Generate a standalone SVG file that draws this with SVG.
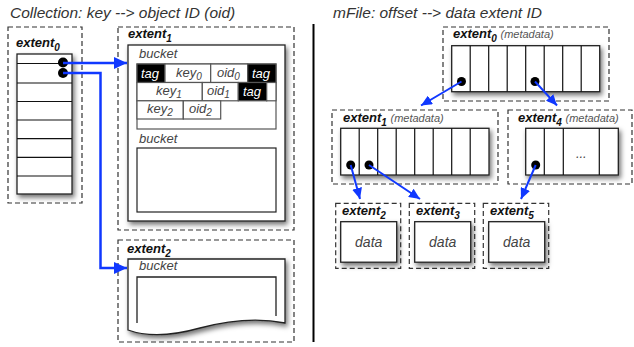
<svg xmlns="http://www.w3.org/2000/svg" width="634" height="347" viewBox="0 0 634 347">
<defs>
<filter id="sh" x="-20%" y="-20%" width="150%" height="150%">
<feDropShadow dx="2" dy="3" stdDeviation="2.5" flood-color="#000" flood-opacity="0.55"/>
</filter>
<marker id="ah" markerUnits="userSpaceOnUse" markerWidth="14" markerHeight="12" refX="13" refY="6" orient="auto">
<path d="M0,0 L13,6 L0,12 Z" fill="#1038ff"/>
</marker>
<marker id="as" markerUnits="userSpaceOnUse" markerWidth="12" markerHeight="10" refX="11" refY="5" orient="auto">
<path d="M0,0 L11,5 L0,10 Z" fill="#1038ff"/>
</marker>
</defs>
<style>
.dash{fill:none;stroke:#333;stroke-width:1.2;stroke-dasharray:5 3}
.box{fill:#fff;stroke:#222;stroke-width:1.3}
.cell{fill:#fff;stroke:#555;stroke-width:1.2}
.blk{fill:#000;stroke:#555;stroke-width:1.2}
.ln{stroke:#111;stroke-width:1.2}
.t{font-family:"Liberation Sans",Arial,sans-serif;font-style:italic}
.title{font-size:15.5px;fill:#333}
.lbl{font-size:13px;font-weight:bold;fill:#111}
.sub{font-size:10px}
.meta{font-size:11px;fill:#555;font-weight:normal}
.g{font-size:13px;fill:#444}
.w{font-size:13px;fill:#fff}
.conn{fill:none;stroke:#1038ff}
.dot{fill:#000}
</style>

<text class="t title" x="10" y="18">Collection: key --&gt; object ID (oid)</text>
<text class="t title" x="333" y="18">mFile: offset --&gt; data extent ID</text>
<line x1="313.5" y1="24" x2="313.5" y2="342" stroke="#000" stroke-width="2"/>

<g id="L-extent0">
<rect class="dash" x="8" y="27" width="74" height="176"/>
<text class="t lbl" x="16" y="47">extent<tspan class="sub" dy="4">0</tspan></text>
<rect class="box" x="17" y="54" width="55" height="140" filter="url(#sh)"/>
<line class="ln" x1="17" y1="63.5" x2="72" y2="63.5"/>
<line class="ln" x1="17" y1="83" x2="72" y2="83"/>
<line class="ln" x1="17" y1="101.5" x2="72" y2="101.5"/>
<line class="ln" x1="17" y1="120" x2="72" y2="120"/>
<line class="ln" x1="17" y1="138.7" x2="72" y2="138.7"/>
<line class="ln" x1="17" y1="157.3" x2="72" y2="157.3"/>
<line class="ln" x1="17" y1="176" x2="72" y2="176"/>
<circle class="dot" cx="63" cy="62.5" r="5"/>
<circle class="dot" cx="63" cy="73" r="5"/>
</g>

<g id="L-extent1">
<rect class="dash" x="118" y="27" width="176" height="203"/>
<text class="t lbl" x="128" y="38">extent<tspan class="sub" dy="4">1</tspan></text>
<rect class="box" x="128" y="45" width="157" height="176" filter="url(#sh)"/>
<text class="t g" x="139" y="58">bucket</text>
<rect class="cell" x="137" y="64" width="139" height="65"/>
<rect class="blk" x="137" y="64" width="28" height="18.5"/>
<rect class="cell" x="165" y="64" width="45.7" height="18.5"/>
<rect class="cell" x="210.7" y="64" width="37" height="18.5"/>
<rect class="blk" x="247.7" y="64" width="28.3" height="18.5"/>
<rect class="cell" x="137" y="82.5" width="65.3" height="18.3"/>
<rect class="cell" x="202.3" y="82.5" width="36" height="18.3"/>
<rect class="blk" x="238.3" y="82.5" width="28.4" height="18.3"/>
<rect class="cell" x="266.7" y="82.5" width="9.3" height="18.3"/>
<rect class="cell" x="137" y="100.8" width="46.3" height="18.2"/>
<rect class="cell" x="183.3" y="100.8" width="37.4" height="18.2"/>
<text class="t w" x="141" y="78">tag</text>
<text class="t g" x="176" y="77">key<tspan class="sub" dy="3">0</tspan></text>
<text class="t g" x="217" y="77">oid<tspan class="sub" dy="3">0</tspan></text>
<text class="t w" x="252" y="78">tag</text>
<text class="t g" x="156" y="95">key<tspan class="sub" dy="3">1</tspan></text>
<text class="t g" x="207" y="95">oid<tspan class="sub" dy="3">1</tspan></text>
<text class="t w" x="243" y="96">tag</text>
<text class="t g" x="147" y="113">key<tspan class="sub" dy="3">2</tspan></text>
<text class="t g" x="189" y="113">oid<tspan class="sub" dy="3">2</tspan></text>
<text class="t g" x="139" y="143">bucket</text>
<rect class="cell" x="137" y="148" width="139" height="64" style="stroke:#222"/>
</g>

<g id="L-extent2">
<rect class="dash" x="118" y="240" width="176" height="102"/>
<text class="t lbl" x="127" y="253">extent<tspan class="sub" dy="4">2</tspan></text>
<path class="box" d="M128,259 H285 V323 C260,318 230,320 200,328 C175,335 150,338 128,330 Z" filter="url(#sh)"/>
<text class="t g" x="139" y="270">bucket</text>
<path d="M137,323 V277 H276 V316" fill="none" stroke="#222" stroke-width="1.3"/>
</g>

<g id="R-extent0">
<rect class="dash" x="443" y="27" width="166" height="74"/>
<text class="t lbl" x="453" y="38">extent<tspan class="sub" dy="4">0</tspan> <tspan class="meta" dy="-4">(metadata)</tspan></text>
<rect class="box" x="451.7" y="45.7" width="148" height="46" filter="url(#sh)"/>
<path class="ln" d="M470.2,45.7V91.7M488.7,45.7V91.7M507.2,45.7V91.7M525.7,45.7V91.7M544.2,45.7V91.7M562.7,45.7V91.7M581.2,45.7V91.7"/>
<circle class="dot" cx="461.5" cy="81.5" r="4.5"/>
<circle class="dot" cx="535" cy="81.5" r="4.5"/>
</g>

<g id="R-extent1">
<rect class="dash" x="332" y="110" width="166" height="74"/>
<text class="t lbl" x="343" y="122">extent<tspan class="sub" dy="4">1</tspan> <tspan class="meta" dy="-4">(metadata)</tspan></text>
<rect class="box" x="340.7" y="128.3" width="148.3" height="46.7" filter="url(#sh)"/>
<path class="ln" d="M359.2,128.3V175M377.7,128.3V175M396.2,128.3V175M414.7,128.3V175M433.2,128.3V175M451.7,128.3V175M470.2,128.3V175"/>
<circle class="dot" cx="350.7" cy="165" r="4.5"/>
<circle class="dot" cx="369" cy="165" r="4.5"/>
</g>

<g id="R-extent4">
<rect class="dash" x="508" y="110" width="124" height="74"/>
<text class="t lbl" x="518" y="122">extent<tspan class="sub" dy="4">4</tspan> <tspan class="meta" dy="-4">(metadata)</tspan></text>
<rect class="box" x="525.7" y="128.3" width="92.6" height="46.7" filter="url(#sh)"/>
<path class="ln" d="M544.3,128.3V175M563.3,128.3V175M599.3,128.3V175"/>
<text class="t g" x="581.3" y="158" text-anchor="middle">...</text>
<circle class="dot" cx="535.7" cy="165" r="4.5"/>
</g>

<g id="R-extent2">
<rect class="dash" x="335.7" y="203.3" width="65" height="65"/>
<text class="t lbl" x="342" y="215">extent<tspan class="sub" dy="4">2</tspan></text>
<rect class="box" x="340.7" y="221.7" width="56" height="40.5" filter="url(#sh)"/>
<text class="t g" x="368.7" y="247" text-anchor="middle" style="font-size:14px">data</text>
</g>
<g id="R-extent3">
<rect class="dash" x="409.3" y="203.3" width="65.4" height="65"/>
<text class="t lbl" x="416" y="215">extent<tspan class="sub" dy="4">3</tspan></text>
<rect class="box" x="414.7" y="221.7" width="56" height="40.5" filter="url(#sh)"/>
<text class="t g" x="442.7" y="247" text-anchor="middle" style="font-size:14px">data</text>
</g>
<g id="R-extent5">
<rect class="dash" x="483.3" y="203.3" width="65.4" height="65"/>
<text class="t lbl" x="490" y="215">extent<tspan class="sub" dy="4">5</tspan></text>
<rect class="box" x="488.7" y="221.7" width="56" height="40.5" filter="url(#sh)"/>
<text class="t g" x="516.7" y="247" text-anchor="middle" style="font-size:14px">data</text>
</g>

<g id="connectors">
<path class="conn" d="M63,63 H127" stroke-width="2.5" marker-end="url(#ah)"/>
<path class="conn" d="M63,73 H100.5 V268 H127" stroke-width="2.5" marker-end="url(#ah)"/>
<path class="conn" d="M461.5,81.5 L421,105.5" stroke-width="2" marker-end="url(#as)"/>
<path class="conn" d="M535,81.5 L557,105.5" stroke-width="2" marker-end="url(#as)"/>
<path class="conn" d="M350.7,165 L360,199" stroke-width="2" marker-end="url(#as)"/>
<path class="conn" d="M369,165 L420,199" stroke-width="2" marker-end="url(#as)"/>
<path class="conn" d="M535.7,165 L521,199" stroke-width="2" marker-end="url(#as)"/>
</g>
</svg>
